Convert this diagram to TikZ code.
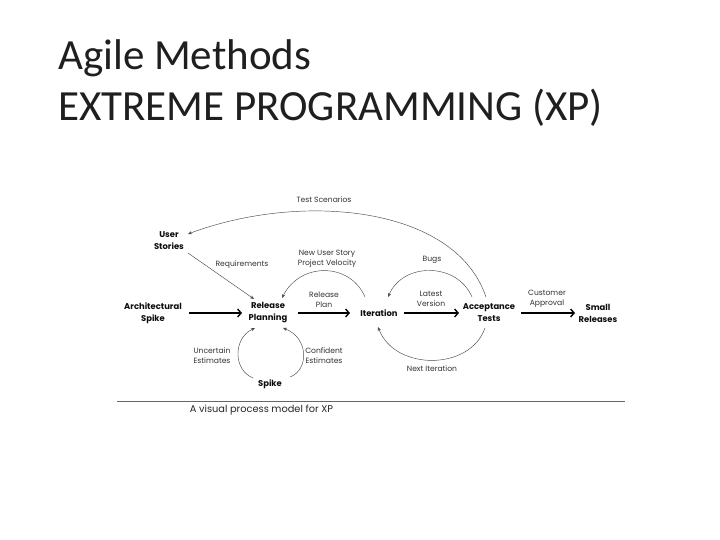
\documentclass[tikz,border=0pt]{standalone}
\usepackage{fontspec}
\setmainfont{Carlito}
\newfontfamily\diafont{Poppins}
\usetikzlibrary{arrows.meta,calc}
\tikzset{
  ttl/.style={anchor=base west,inner sep=0pt,font=\fontsize{43}{43}\selectfont,text=black!88},
  lbl/.style={align=center,inner sep=1pt,font=\diafont\fontsize{7.6}{10}\selectfont,text=black!80},
  bn/.style={align=center,inner sep=1pt,font=\diafont\bfseries\fontsize{8.4}{12}\selectfont,text=black!95},
  bigarrow/.style={line width=1.4pt,-{Straight Barb[length=3.5pt,width=8pt,line width=1.4pt]}},
  thin/.style={line width=0.45pt,draw=black!70,-{Stealth[length=4pt,width=3.2pt]}},
}
\begin{document}
\begin{tikzpicture}[x=1pt,y=-1pt]
\useasboundingbox[fill=white] (0,0) rectangle (720,540);
% title
\node[ttl] (t1) at (58,70) {Agile Methods};
\node[ttl] (t2) at (58,121) {EXTREME PROGRAMMING (XP)};
% nodes
\node[lbl] (ts) at (324,200) {Test Scenarios};
\node[bn] (us) at (169,241) {User\\Stories};
\node[lbl] (req) at (242,265) {Requirements};
\node[lbl] (nus) at (327,259) {New User Story\\Project Velocity};
\node[lbl] (bugs) at (432,260) {Bugs};
\node[bn] (arch) at (153,313) {Architectural\\Spike};
\node[bn] (rp) at (268,313) {Release\\Planning};
\node[lbl] (rplan) at (324,300) {Release\\Plan};
\node[bn] (it) at (379,313) {Iteration};
\node[lbl] (lv) at (431,299) {Latest\\Version};
\node[bn] (at) at (489,313) {Acceptance\\Tests};
\node[lbl] (ca) at (547,299) {Customer\\Approval};
\node[bn] (sr) at (598,313) {Small\\Releases};
\node[lbl] (ue) at (212,356) {Uncertain\\Estimates};
\node[lbl] (ce) at (324,356) {Confident\\Estimates};
\node[bn] (sp) at (270,384) {Spike};
\node[lbl] (ni) at (432,369) {Next Iteration};
% straight arrows
\draw[bigarrow] ($(arch.center)+(36,0)$) -- ($(rp.center)+(-26,0)$);
\draw[bigarrow] ($(rp.center)+(30,0)$) -- ($(it.center)+(-29,0)$);
\draw[bigarrow] ($(it.center)+(25,0)$) -- ($(at.center)+(-30,0)$);
\draw[bigarrow] ($(at.center)+(32,0)$) -- ($(sr.center)+(-23,0)$);
% thin connectors
\draw[thin] ($(at.center)+(-3,-16)$) .. controls (455,205) and (300,192) .. ($(us.center)+(19,-7)$);
\draw[thin] ($(us.center)+(19,12)$) -- ($(rp.center)+(-14,-14)$);
\draw[thin] ($(it.center)+(-14,-16)$) .. controls (350,262) and (300,262) .. ($(rp.center)+(14,-15)$);
\draw[thin] ($(at.center)+(-17,-16)$) .. controls (457,262) and (403,262) .. ($(it.center)+(9,-16)$);
\draw[thin] ($(at.center)+(-4,15)$) .. controls (470,371) and (395,371) .. ($(it.center)+(-1,14)$);
\draw[thin] ($(sp.center)+(-17,-6)$) .. controls (233,370) and (233,338) .. ($(rp.center)+(-13,15)$);
\draw[thin] ($(sp.center)+(20,-7)$) .. controls (309,370) and (309,338) .. ($(rp.center)+(15,15)$);
% rule and caption
\coordinate (r1) at (117,401);
\coordinate (r2) at (625,401);
\draw[line width=0.9pt,draw=black!60] (r1) -- (r2);
\node[inner sep=1pt,font=\diafont\fontsize{9.8}{12}\selectfont,text=black!85] (cap) at (261.5,410) {A visual process model for XP};
\end{tikzpicture}
\end{document}
